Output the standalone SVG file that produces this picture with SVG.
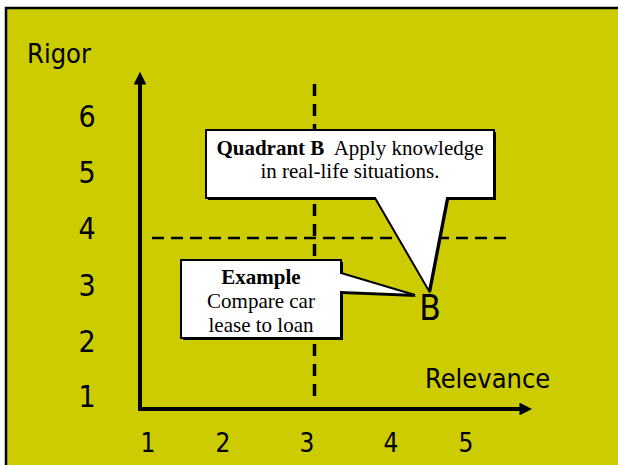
<svg xmlns="http://www.w3.org/2000/svg" width="618" height="465" viewBox="0 0 618 465">
<style>
.sans{font-family:"DejaVu Sans Condensed","DejaVu Sans",sans-serif;fill:#000}
.ser{font-family:"Liberation Serif","Times New Roman",serif;font-size:21px;fill:#000;text-anchor:middle}
.yd{font-size:30px;text-anchor:middle}
.xd{font-size:26px;text-anchor:middle}
.axis{stroke:#000;stroke-width:4;fill:none}
.dash{stroke:#000;fill:none}
.box{fill:#fff;stroke:#000;stroke-width:2;stroke-linejoin:miter}
.shadow{fill:#000}
</style>
<defs>
<marker id="ah" viewBox="0 0 10 10" refX="2" refY="5" markerWidth="3.2" markerHeight="3.2" orient="auto" markerUnits="strokeWidth">
<path d="M0,0 L10,5 L0,10 Z" fill="#000"/>
</marker>
</defs>
<rect x="0" y="0" width="618" height="465" fill="#fff"/>
<rect x="6" y="8" width="640" height="480" fill="#CCCC00" stroke="#000" stroke-width="2.5"/>
<g id="labels">
<text class="sans" x="27" y="63" font-size="27">Rigor</text>
<text class="sans" x="425" y="388" font-size="27">Relevance</text>
<text class="sans yd" x="87" y="127">6</text>
<text class="sans yd" x="87" y="183">5</text>
<text class="sans yd" x="87" y="239">4</text>
<text class="sans yd" x="87" y="296">3</text>
<text class="sans yd" x="87" y="352">2</text>
<text class="sans yd" x="87" y="407">1</text>
<text class="sans xd" x="148" y="452">1</text>
<text class="sans xd" x="223" y="452">2</text>
<text class="sans xd" x="307" y="452">3</text>
<text class="sans xd" x="391" y="452">4</text>
<text class="sans xd" x="466" y="452">5</text>
</g>
<g id="connectors">
<path class="axis" d="M140,409 V82" marker-end="url(#ah)"/>
<path class="axis" d="M138,409 H522" marker-end="url(#ah)"/>
<path class="dash" d="M314.5,84 V398" stroke-width="3.5" stroke-dasharray="12,8"/>
<path class="dash" d="M152,238 H506" stroke-width="2.5" stroke-dasharray="12,7"/>
</g>
<g id="quadrant-b">
<path class="shadow" d="M208,132 H496 V200 H449 L431,293 L377,200 H208 Z"/>
<path class="box" d="M206,130 H494 V198 H447 L429,291 L375,198 H206 Z"/>
<text class="ser" x="350" y="155" xml:space="preserve"><tspan font-weight="bold">Quadrant B</tspan>  Apply knowledge</text>
<text class="ser" x="350" y="178">in real-life situations.</text>
</g>
<g id="example">
<path class="shadow" d="M183,262 H343 V275 L417,297 L343,294 V340 H183 Z"/>
<path class="box" d="M181,260 H341 V273 L415,295 L341,292 V338 H181 Z"/>
<text class="ser" x="261" y="284" font-weight="bold">Example</text>
<text class="ser" x="261" y="308">Compare car</text>
<text class="ser" x="261" y="332">lease to loan</text>
</g>
<g id="point-b">
<text class="sans" x="430" y="320" font-size="35" text-anchor="middle">B</text>
</g>
</svg>
